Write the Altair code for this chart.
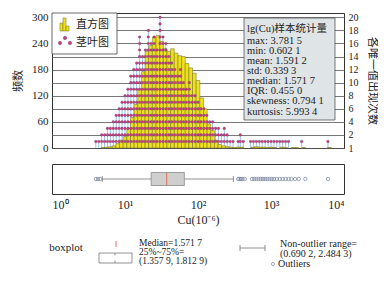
import altair as alt
import pandas as pd
import numpy as np

FONT = "Liberation Serif, Noto Sans CJK SC"

# ---------------- data ----------------
# histogram of lg(Cu): bin centres (log10) and counts
hist_center = [0.70, 0.75, 0.80, 0.85, 0.90, 0.95, 1.00, 1.05, 1.10, 1.15, 1.20, 1.25,
               1.30, 1.35, 1.40, 1.45, 1.50, 1.55, 1.60, 1.65, 1.70, 1.75, 1.80, 1.85,
               1.90, 1.95, 2.00, 2.05, 2.10, 2.15, 2.20, 2.25, 2.30, 2.35, 2.40, 2.45,
               2.50, 2.55, 2.60, 2.75, 2.80, 2.85, 2.90, 2.95, 3.00, 3.05, 3.15, 3.20,
               3.30, 3.35, 3.45, 3.80]
hist_count = [1, 2, 3, 5, 10, 18, 26, 45, 70, 100, 135, 175,
              222, 235, 255, 258, 245, 228, 222, 228, 218, 212, 210, 194,
              184, 172, 155, 115, 90, 55, 40, 18, 8, 5, 3, 2,
              1, 2, 2, 2, 3, 2, 2, 1, 2, 1, 2, 1,
              1, 1, 1, 1]
BIN_W = 0.05

# stem-and-leaf: unique values (log10) and occurrences of each
stem_log = [0.60, 0.64, 0.68, 0.72, 0.76, 0.80, 0.84, 0.88, 0.92, 0.96, 1.00, 1.04,
            1.08, 1.12, 1.16, 1.20, 1.24, 1.28, 1.32, 1.36, 1.40, 1.44, 1.48, 1.52,
            1.56, 1.60, 1.64, 1.68, 1.72, 1.76, 1.80, 1.84, 1.88, 1.92, 1.96, 2.00,
            2.04, 2.08, 2.12, 2.16, 2.20, 2.24, 2.28, 2.32, 2.36, 2.40, 2.44, 2.48,
            2.55, 2.58, 2.62, 2.72, 2.76, 2.80, 2.84, 2.88, 2.92, 2.96, 3.00, 3.04,
            3.08, 3.12, 3.16, 3.20, 3.24, 3.42, 3.78]
stem_count = [1, 1, 2, 2, 3, 3, 4, 5, 6, 7, 8, 9,
              11, 12, 13, 17, 14, 15, 18, 16, 17, 15, 20, 17,
              16, 14, 13, 12, 11, 12, 10, 9, 10, 8, 8, 7,
              6, 6, 5, 4, 4, 3, 3, 2, 3, 2, 1, 1,
              1, 2, 1, 1, 1, 1, 1, 1, 1, 1, 1, 1,
              1, 1, 1, 1, 1, 1, 1]

# box plot (lg values)
box_q1, box_med, box_q3 = 1.3579, 1.5717, 1.8129
whisk_lo, whisk_hi = 0.6902, 2.4843
outlier_log = [0.6021, 0.63, 0.66, 2.55, 2.57, 2.59, 2.61, 2.64, 2.74, 2.77, 2.80,
               2.83, 2.86, 2.89, 2.92, 2.95, 2.98, 3.01, 3.04, 3.08, 3.12, 3.16,
               3.20, 3.24, 3.28, 3.33, 3.38, 3.47, 3.7815]

stats_title = "lg(Cu)样本统计量"
stats_lines = ["max: 3.781 5", "min: 0.602 1", "mean: 1.591 2", "std: 0.339 3",
               "median: 1.571 7", "IQR: 0.455 0"]
stats_lines2 = ["skewness: 0.794 1", "kurtosis: 5.993 4"]

x_ticks = [1, 10, 100, 1000, 10000]
left_ticks = [0, 60, 120, 180, 240, 300]
right_ticks = [0, 2, 4, 6, 8, 10, 12, 14, 16, 18, 20]

# ---------------- tables ----------------
hc = np.array(hist_center)
hist = pd.DataFrame({"lo": 10 ** (hc - BIN_W / 2), "hi": 10 ** (hc + BIN_W / 2),
                     "count": hist_count})
stems = pd.DataFrame({"x": 10 ** np.array(stem_log), "count": stem_count})
dots = pd.DataFrame([{"x": 10 ** l, "level": k}
                     for l, c in zip(stem_log, stem_count) for k in range(1, c + 1)])
box = pd.DataFrame({"q1": [10 ** box_q1], "med": [10 ** box_med], "q3": [10 ** box_q3],
                    "wlo": [10 ** whisk_lo], "whi": [10 ** whisk_hi]})
outl = pd.DataFrame({"x": 10 ** np.array(outlier_log)})
one = pd.DataFrame({"a": [0]})

xs = alt.Scale(type="log", domain=[1, 10000], nice=False)
ylft = alt.Scale(domain=[0, 310], nice=False)
yrgt = alt.Scale(domain=[0, 310 / 15], nice=False)

W, H1, H2 = 292, 135, 30

left_axis = alt.Axis(values=left_ticks, title="频数", grid=False, ticks=False,
                     domain=False, labelFontSize=11, labelPadding=4,
                     titleFontSize=11, titlePadding=8, titleFontWeight="normal",
                     labelColor="#222", titleColor="#222")

# ---------------- top panel ----------------
stem_layer = alt.Chart(stems).transform_calculate(
    top="datum.count * 15", zero="0"
).mark_rule(color="#9fc4ee", strokeWidth=1).encode(
    x=alt.X("x:Q", scale=xs, axis=None),
    y=alt.Y("top:Q", scale=ylft, axis=left_axis),
    y2="zero:Q",
)

bar_layer = alt.Chart(hist).mark_rect(color="#efe21c", stroke="#6f6a2a",
                                      strokeWidth=0.5).encode(
    x=alt.X("lo:Q", scale=xs, axis=None),
    x2="hi:Q",
    y=alt.Y("count:Q", scale=ylft, axis=left_axis),
    y2=alt.datum(0),
)

def vrect(x1, x2, y1, y2, **kw):
    return alt.Chart(one).mark_rect(**kw).encode(
        x=alt.value(x1), x2=alt.value(x2), y=alt.value(y1), y2=alt.value(y2))

def vtext(x, y, txt, **kw):
    params = dict(font=FONT, fontSize=10.5, color="#222", align="left",
                  baseline="middle")
    params.update(kw)
    return alt.Chart(one).mark_text(text=txt, **params).encode(
        x=alt.value(x), y=alt.value(y))

# legend box (upper-left)
legend_layers = [
    vrect(0, 65, 0, 41, fill="white", stroke="#444", strokeWidth=0.8),
    vrect(8, 11, 10, 18, fill="#efe21c", stroke="#6f6a2a", strokeWidth=0.5),
    vrect(11, 14, 5, 18, fill="#efe21c", stroke="#6f6a2a", strokeWidth=0.5),
    vrect(14, 17, 13, 18, fill="#efe21c", stroke="#6f6a2a", strokeWidth=0.5),
    vtext(24, 12, "直方图", fontSize=11),
    vtext(24, 30, "茎叶图", fontSize=11),
]
for px, py in [(8, 30), (13, 25), (18, 30)]:
    legend_layers.append(alt.Chart(one).mark_point(
        shape="circle", filled=True, fill="#d23c6e", stroke="#3c3c96",
        strokeWidth=0.4, size=12, opacity=1).encode(x=alt.value(px), y=alt.value(py)))

# statistics box (upper-right)
stats_layers = [vrect(192, 283, 5, 107, fill="#dfe4e6", stroke="#555", strokeWidth=0.8),
                vtext(195, 16, stats_title)]
for i, s in enumerate(stats_lines):
    stats_layers.append(vtext(195, 28 + i * 10, s))
for i, s in enumerate(stats_lines2):
    stats_layers.append(vtext(195, 88 + i * 11, s))

dot_layer = alt.Chart(dots).mark_point(
    shape="circle", filled=True, fill="#d23c6e", stroke="#3c3c96", strokeWidth=0.3,
    size=7, opacity=1).encode(
    x=alt.X("x:Q", scale=xs, axis=None),
    y=alt.Y("level:Q", scale=yrgt,
            axis=alt.Axis(orient="right", values=right_ticks, title="各唯一值出现次数",
                          labelExpr="datum.value == 0 ? '1' : datum.label",
                          grid=True, gridColor="#555", gridWidth=0.8, ticks=False,
                          domain=False, labelFontSize=10, labelPadding=4,
                          titleFontSize=11, titlePadding=8, titleFontWeight="normal",
                          labelColor="#222", titleColor="#222")),
)

left_part = alt.layer(stem_layer, bar_layer, *legend_layers, *stats_layers)
top = alt.layer(left_part, dot_layer).resolve_scale(y="independent").properties(
    width=W, height=H1)

# ---------------- box plot panel ----------------
bx = alt.Chart(box)
whisk1 = bx.mark_rule(color="#777", strokeWidth=0.8).encode(
    x=alt.X("wlo:Q", scale=xs,
            axis=alt.Axis(values=x_ticks, title="Cu(10⁻⁶)", grid=False, ticks=False,
                          domain=False, labelFontSize=12, labelPadding=5,
                          titleFontSize=12, titlePadding=4, titleFontWeight="normal",
                          labelColor="#222", titleColor="#222",
                          labelExpr="datum.value == 1 ? '10⁰' : datum.value == 10 ? '10¹' : datum.value == 100 ? '10²' : datum.value == 1000 ? '10³' : '10⁴'")),
    x2="q1:Q", y=alt.value(15))
whisk2 = bx.mark_rule(color="#777", strokeWidth=0.8).encode(
    x=alt.X("q3:Q", scale=xs), x2="whi:Q", y=alt.value(15))
cap1 = bx.mark_rule(color="#777", strokeWidth=0.8).encode(
    x=alt.X("wlo:Q", scale=xs), y=alt.value(12), y2=alt.value(18))
cap2 = bx.mark_rule(color="#777", strokeWidth=0.8).encode(
    x=alt.X("whi:Q", scale=xs), y=alt.value(12), y2=alt.value(18))
boxr = bx.mark_rect(fill="#cfcfcf", stroke="#888", strokeWidth=0.8).encode(
    x=alt.X("q1:Q", scale=xs), x2="q3:Q", y=alt.value(8.5), y2=alt.value(21.5))
medr = bx.mark_rule(color="#e07050", strokeWidth=1).encode(
    x=alt.X("med:Q", scale=xs), y=alt.value(9), y2=alt.value(21))
outp = alt.Chart(outl).mark_point(shape="circle", filled=False, stroke="#5a6a8a",
                                  strokeWidth=0.8, size=12).encode(
    x=alt.X("x:Q", scale=xs), y=alt.value(15))

# bottom legend for the box plot
def vrule(x1, x2, y1, y2, **kw):
    return alt.Chart(one).mark_rule(**kw).encode(
        x=alt.value(x1), x2=alt.value(x2), y=alt.value(y1), y2=alt.value(y2))

bl = [
    vtext(14, 84, "boxplot", align="center", fontSize=11),
    vrect(47, 80, 89, 99, fill="white", stroke="#777", strokeWidth=0.8),
    vrule(63, 63, 89, 91.5, color="#777", strokeWidth=0.8),
    vrule(63, 63, 96.5, 99, color="#777", strokeWidth=0.8),
    vrule(64, 64, 77, 83, color="#e07070", strokeWidth=1),
    vtext(87, 78.5, "Median=1.571 7", fontSize=9.5),
    vtext(87, 87.5, "25%~75%=", fontSize=9.5),
    vtext(87, 97, "(1.357 9, 1.812 9)", fontSize=9.5),
    vrule(188, 213, 84, 84, color="#777", strokeWidth=0.8),
    vrule(188, 188, 81, 87, color="#777", strokeWidth=0.8),
    vrule(213, 213, 81, 87, color="#777", strokeWidth=0.8),
    vtext(228, 80, "Non-outlier range=", fontSize=10),
    vtext(228, 90, "(0.690 2, 2.484 3)", fontSize=10),
    alt.Chart(one).mark_point(shape="circle", filled=False, stroke="#5a6a8a",
                              strokeWidth=0.8, size=10).encode(
        x=alt.value(221), y=alt.value(100)),
    vtext(226, 100, "Outliers", fontSize=10),
]

bottom = alt.layer(whisk1, whisk2, cap1, cap2, boxr, medr, outp, *bl).properties(
    width=W, height=H2)

chart = alt.vconcat(top, bottom, spacing=9).properties(
    padding={"left": 4, "top": 2, "right": 0, "bottom": 0}
).configure_view(stroke="#333", strokeWidth=1).configure_axis(
    labelFont=FONT, titleFont=FONT
).configure_text(font=FONT)

chart.save("out.html", embed_options={"renderer": "svg", "actions": False})
